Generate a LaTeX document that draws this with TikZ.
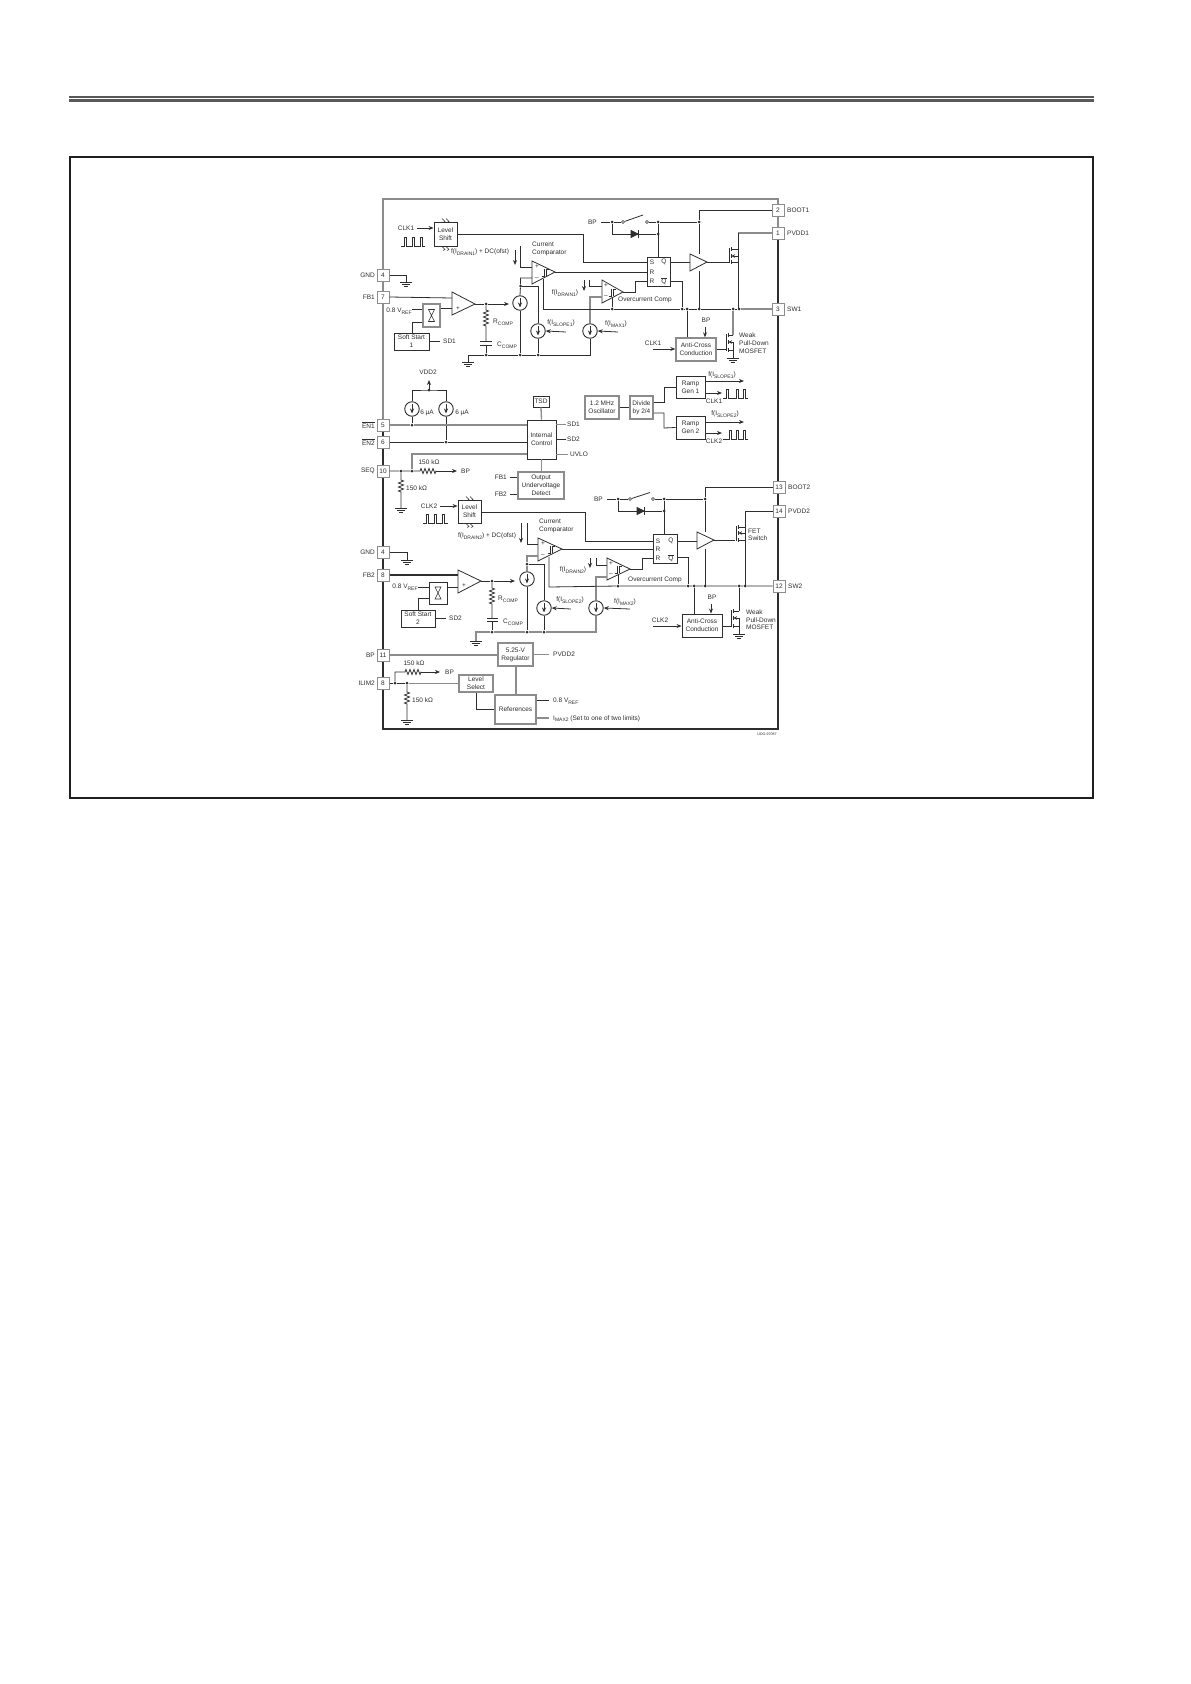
\documentclass[tikz,border=0pt]{standalone}
\usepackage{fontspec}
\setmainfont{Liberation Sans}
\usetikzlibrary{arrows.meta,decorations.pathmorphing,calc}
\definecolor{ink}{gray}{0.18}
\definecolor{soft}{gray}{0.55}
\newcommand{\sbs}[1]{\raisebox{-1.6pt}{\fontsize{5}{5}\selectfont #1}}
\tikzset{
  wire/.style={line width=.8pt,draw=ink,line join=miter},
  wireg/.style={line width=1.3pt,draw=soft},
  arr/.style={-{Stealth[length=5pt,width=4pt]}},
  box/.style={draw=ink,line width=.9pt,fill=white,text=ink,font=\fontsize{6.5}{8}\selectfont},
  gbox/.style={box,draw=soft,line width=1.4pt},
  pinbox/.style={draw=soft,line width=1pt,fill=white,text=ink,minimum size=12pt,inner sep=0pt,font=\fontsize{6.5}{8}\selectfont},
  txt/.style={text=ink,inner sep=0pt,font=\fontsize{6.5}{8}\selectfont,align=center},
  txl/.style={txt,anchor=west,align=left},
  txr/.style={txt,anchor=east,align=right},
  res/.style={decoration={zigzag,segment length=4pt,amplitude=2.5pt}},
  dotc/.style={circle,fill=ink,inner sep=0pt,minimum size=3pt},
  opn/.style={circle,draw=ink,line width=.6pt,fill=white,inner sep=0pt,minimum size=3pt},
  isrcbox/.style={circle,draw=ink,line width=.9pt,fill=white,inner sep=0pt,minimum size=14.5pt},
}
\newcommand{\BOX}[7][box]{%
  \pgfmathsetmacro\rbw{#5-#3}\pgfmathsetmacro\rbh{#6-#4}%
  \pgfmathsetmacro\rcx{(#3+#5)/2}\pgfmathsetmacro\rcy{(#4+#6)/2}%
  \node[#1,minimum width=\rbw pt,minimum height=\rbh pt,inner sep=0pt,align=center] (#2) at (\rcx,\rcy) {#7};}
\newcommand{\PIN}[4]{\node[pinbox] (#1) at (#2,#3) {#4};}
% triangle: name, xl, ytop, ybot, xapex, yapex
\newcommand{\TRI}[6]{%
  \draw[wire,fill=white] (#2,#3) -- (#2,#4) -- (#5,#6) -- cycle;
  \coordinate (#1-o) at (#5,#6);}
\newcommand{\ISRC}[3]{%
  \node[isrcbox] (#1) at (#2,#3) {};
  \draw[wire,arr] ([yshift=5pt]#1.center) -- ([yshift=-4.5pt]#1.center);}
\newcommand{\GNDS}[3]{%
  \coordinate (#1) at (#2,#3);
  \draw[wire] ([xshift=-6pt]#1) -- ([xshift=6pt]#1);
  \draw[wire] ([xshift=-4pt,yshift=-2pt]#1) -- ([xshift=4pt,yshift=-2pt]#1);
  \draw[wire] ([xshift=-1.8pt,yshift=-4pt]#1) -- ([xshift=1.8pt,yshift=-4pt]#1);}
\newcommand{\HYST}[2]{%
  \draw[line width=.4pt,draw=ink] (#1-3.5,#2+4) -- (#1-1.2,#2+4) -- (#1-1.2,#2-3);
  \draw[line width=.4pt,draw=ink] (#1+1.2,#2+4) -- (#1+1.2,#2-3) -- (#1+3.5,#2-3);}
% MOS: xg, xc, xr, yd, ym, ys
\newcommand{\MOS}[6]{%
  \draw[wire] (#1,#4-1) -- (#1,#6+1);
  \draw[line width=1pt,draw=ink] (#2,#4-2) -- (#2,#4+2) (#2,#5-2) -- (#2,#5+2) (#2,#6-2) -- (#2,#6+2);
  \draw[wire] (#2,#4) -- (#3,#4);
  \draw[wire] (#2,#6) -- (#3,#6);
  \draw[wire,-{Stealth[length=3.5pt,width=3.5pt]}] (#3,#5) -- (#2,#5);
  \draw[wire] (#3,#5) -- (#3,#6);}
% pulses: x0, base, top, p1,p2,p3, x1
\newcommand{\PULSE}[7]{%
  \draw[line width=.7pt,draw=ink] (#1,#2) -- (#4,#2) -- (#4,#3) -- (#4+2.5,#3) -- (#4+2.5,#2) -- (#5,#2) -- (#5,#3) -- (#5+2.5,#3) -- (#5+2.5,#2) -- (#6,#2) -- (#6,#3) -- (#6+2.5,#3) -- (#6+2.5,#2) -- (#7,#2);}
\newcommand{\HOUR}[2]{%
  \draw[line width=.6pt,draw=ink] (#1-3,#2-6) -- (#1+3,#2-6) -- (#1-3,#2+6) -- (#1+3,#2+6) -- cycle;}
\newcommand{\SQG}[2]{%
  \draw[line width=.5pt,draw=ink] (#1,#2-1.5) -- (#1+3,#2+1.5) -- (#1+1,#2+2.5) (#1+4,#2-1.5) -- (#1+7,#2+1.5) -- (#1+5,#2+2.5);}
\begin{document}
\begin{tikzpicture}[x=1pt,y=-1pt]
\useasboundingbox (0,0) rectangle (1191,1684);
\fill[white] (0,0) rectangle (1191,1684);
% page furniture
\fill[gray!70!black] (69,96) rectangle (1094,97.6);
\fill[gray!70!black] (69,98.8) rectangle (1094,102);
\draw[line width=2.2pt,draw=black!88] (70,157) rectangle (1093,798);
% chip outline
\draw[wireg] (383,429) -- (383,199) -- (778,199) -- (778,233);
\draw[wire,line width=1.1pt] (383,429) -- (383,729) -- (778,729) -- (778,233);
% pins
\PIN{pinA}{383}{275}{4}
\PIN{pinG}{383}{297}{7}
\PIN{pinB}{778}{210}{2}
\PIN{pinC}{778}{233}{1}
\PIN{pinD}{778}{309}{3}
\PIN{pinE}{383}{425}{5}
\PIN{pinF}{383}{442}{6}
\PIN{pinJ}{383}{471}{10}
\PIN{pinM}{779}{487}{13}
\PIN{pinN}{779}{511}{14}
\PIN{pinL}{779}{586}{12}
\PIN{pinP}{383}{552}{4}
\PIN{pinH}{383}{575}{8}
\PIN{pinK}{383}{655}{11}
\PIN{pinI}{383}{683}{8}
% pin labels
\node[txr] (lGNDa) at (375,275) {GND};
\node[txr] (lFBa) at (375,297) {FB1};
\node[txr] (lENa) at (375,425) {$\overline{\mbox{EN1}}$};
\node[txr] (lENb) at (375,442) {$\overline{\mbox{EN2}}$};
\node[txr] (lSEQ) at (375,471) {SEQ};
\node[txr] (lGNDb) at (375,552) {GND};
\node[txr] (lFBb) at (375,575) {FB2};
\node[txr] (lBP) at (375,655) {BP};
\node[txr] (lILIM) at (375,683) {ILIM2};
\node[txl] (lBOOTa) at (787,210) {BOOT1};
\node[txl] (lPVDDa) at (787,233) {PVDD1};
\node[txl] (lSWa) at (787,309) {SW1};
\node[txl] (lBOOTb) at (788,487) {BOOT2};
\node[txl] (lPVDDb) at (788,511) {PVDD2};
\node[txl] (lSWb) at (788,586) {SW2};

%%% ---------- channel 1 ----------
\BOX{ls1}{434}{222}{457}{246}{Level\\Shift}
\SQG{442}{220}\SQG{442}{248}
\node[txt] (clk1a) at (406,228) {CLK1};
\draw[wire,arr] (clk1a.east) ++(3,0) -- (ls1.west |- clk1a);
\PULSE{401}{246}{237}{404}{412}{420}{425}
\GNDS{gA}{406}{282}
\draw[wire] (pinA.east) -| (gA);
\node[txt] (fd1) at (480,252) {f(I\sbs{DRAIN1}) + DC(ofst)};
\coordinate (aD1t) at (515,250);
\draw[wire,arr] (aD1t) -- (515,265);
\node[txl] (cc1l) at (532,248.5) {Current\\Comparator};
\TRI{amp1}{452}{292}{315}{475}{304}
\node[txt] at (458,309) {+};
\draw[wire] (pinG.east) -- (452,298);
\BOX[gbox]{sg1}{423}{304}{440}{327}{}
\HOUR{431.5}{315.5}
\draw[wire] (sg1.east |- 0,308) -- (452,308);
\node[txt] (vr1) at (399,311) {0.8 V\sbs{REF}};
\draw[wire] (412,309) -- (sg1.west |- 0,309);
\BOX{ss1}{394}{333}{429}{350}{Soft Start\\1}
\draw[wire] (sg1.west |- 0,322) -| (ss1.north -| 412,0);
\node[txl] (sd1) at (443,341) {SD1};
\draw[wire] (ss1.east |- sd1) -- (440,341);
\node[dotc] (j1) at (486,304) {};
\ISRC{i1}{520}{303}
\coordinate (tip1) at (509,304);
\draw[wire,arr] (amp1-o) -- (j1) -- (tip1);
\coordinate (r1a) at (486,310);
\coordinate (r1b) at (486,326);
\draw[wire] (j1) -- (r1a) decorate[res]{-- (r1b)} -- (486,341);
\node[txl] (rc1) at (493,322) {R\sbs{COMP}};
\draw[wire] (480,341) -- (492,341) (480,345) -- (492,345);
\node[txl] (cc1) at (497,345) {C\sbs{COMP}};
\node[dotc] (j2) at (486,355) {};
\draw[wire] (486,345) -- (j2);
\GNDS{gG}{468}{362}
\node[dotc] (j3) at (520,355) {};
\node[dotc] (j4) at (538,355) {};
\ISRC{i2}{538}{331}
\ISRC{i3}{590}{331}
\draw[wire] (gG) -- (468,355) -- (j2) -- (j3) -- (j4) -- (590,355) -- (i3.south);
\draw[wire] (i1.south) -- (j3);
\draw[wire] (i2.south) -- (j4);
\TRI{cmp1}{532}{261}{284}{555}{272}
\node[txt] at (537,266.5) {+};
\node[txt] at (537,279) {–};
\HYST{545}{272}
\node[dotc] (j5) at (520.5,286) {};
\draw[wire] (i1.north) -- (j5) -- (520.5,278) -- (532,278);
\draw[wire] (j5) -- (538,286) -- (i2.north);
\draw[wire] (520.5,246) -- (520.5,267) -- (532,267);
\node[txt] (fi1) at (565,293) {f(I\sbs{DRAIN1})};
\node[txt] (fs1) at (561,323) {f(I\sbs{SLOPE1})};
\coordinate (a1) at (566,332);
\draw[wire,arr] (a1) -- (i2.east);
\node[txt] (fm1) at (616,324) {f(I\sbs{MAX1})};
\coordinate (a2) at (618,332);
\draw[wire,arr] (a2) -- (i3.east);
\TRI{cmp2}{602}{280}{303}{623}{292}
\node[txt] at (606,286) {+};
\node[txt] at (606,297) {–};
\HYST{612}{292}
\draw[wire,arr] (584,280) -- (584,291);
\draw[wire] (589,280) -- (589,286) -- (602,286);
\draw[wireg] (i3.north) -- (590,297) -- (602,297);
\node[txl] (occ1) at (618,300) {Overcurrent Comp};
% SR 1
\BOX{sr1}{647}{257}{670}{286}{}
\node[txt] (s1S) at (652,262) {S};
\node[txt] (s1R) at (652,272) {R};
\node[txt] (s1T) at (652,281) {R};
\node[txt] (s1Q) at (664,262) {Q};
\node[txt] (s1N) at (664,281) {$\overline{\mbox{Q}}$};
\draw[wire] (ls1.east |- 0,234) -- (583,234) -- (583,262) -- (sr1.west |- 0,262);
\draw[wire] (cmp1-o) -- (sr1.west |- cmp1-o);
\draw[wire] (cmp2-o) -- (635,292) -- (635,281) -- (sr1.west |- 0,281);
\node[txr] (bp1) at (597,222) {BP};
\node[opn] (s1a) at (623,222) {};
\node[opn] (s1b) at (647,222) {};
\node[dotc] (j6) at (612,222) {};
\node[dotc] (j7) at (658,222) {};
\node[dotc] (j8) at (699,222) {};
\draw[wire] (601,222) -- (j6) -- (s1a);
\draw[wire] (s1a) -- (643,215);
\draw[wire] (s1b) -- (j7) -- (j8);
\draw[wire] (j7) -- (sr1.north -| j7);
\node[dotc] (j9) at (658,234) {};
\draw[wire] (j6) -- (612,234) -- (j9);
\draw[wire,fill=ink] (631,230.5) -- (631,237.5) -- (638,234) -- cycle;
\draw[wire,line width=1pt] (638,230) -- (638,238);
\TRI{buf1}{690}{254}{271}{707}{262}
\draw[wire] (sr1.east |- 0,262) -- (690,262);
\draw[wire] (buf1-o) -- (729,262);
\MOS{729}{731.5}{738}{249}{256}{262}
\draw[wire] (pinB.west) -- (699,210) -- (j8) -- (699,254);
\draw[wire] (699,271) -- (699,309);
\draw[wireg] (pinC.west) -- (738,233);
\draw[wire] (738,233) -- (738,309);
% SW1 bus
\node[dotc] (k1) at (612,309) {};
\node[dotc] (k2) at (682,309) {};
\node[dotc] (k3) at (687,309) {};
\node[dotc] (k4) at (699,309) {};
\node[dotc] (k5) at (733,309) {};
\node[dotc] (k6) at (739,309) {};
\draw[wire] (543,279) -- (543,309) -- (k1) -- (k2) -- (k3) -- (k4) -- (k5) -- (k6);
\draw[wireg] (k6) -- (pinD.west);
\draw[wire] (k1) -- (612,298);
\draw[wire] (sr1.east |- 0,281) -- (682,281) -- (k2);
\BOX[gbox]{ac1}{676}{338}{716}{361}{Anti-Cross\\Conduction}
\draw[wire] (k3) -- (ac1.north -| k3);
\node[txt] (bp1b) at (706,320) {BP};
\coordinate (a3) at (705,327);
\draw[wire,arr] (a3) -- (ac1.north -| a3);
\node[txt] (ck1) at (653,343) {CLK1};
\coordinate (a4) at (653,349);
\draw[wire,arr] (a4) -- (ac1.west |- a4);
\draw[wire] (ac1.east |- a4) -- (726,349);
\MOS{726}{728.5}{733}{335}{342}{350}
\draw[wireg] (k5) -- (733,335);
\GNDS{gW}{733}{358}
\draw[wire] (733,350) -- (gW);
\node[txl] (wk1) at (739,335) {Weak};
\node[txl] (wk2) at (739,343) {Pull-Down};
\node[txl] (wk3) at (739,351) {MOSFET};

%%% ---------- enable / control ----------
\node[txt] (vdd2) at (428,372) {VDD2};
\coordinate (vb) at (429,390);
\draw[wire,arr] (vb) -- (429,380);
\ISRC{i4}{412}{409}
\ISRC{i5}{446}{409}
\draw[wire,line width=.9pt] (i4.north) |- (vb) -| (i5.north);
\fill[ink] (vb) circle (1.5pt);
\node[txt] (ua1) at (427,413) {6 µA};
\node[txt] (ua2) at (462,413) {6 µA};
\BOX[box]{ic}{527}{420}{556}{459}{Internal\\Control}
\node[dotc] (m1) at (412,425) {};
\node[dotc] (m2) at (446,442) {};
\draw[wire] (i4.south) -- (m1);
\draw[wire] (i5.south) -- (m2);
\draw[wireg] (pinE.east) -- (m1) -- (ic.west |- m1);
\draw[wire] (pinF.east) -- (m2) -- (ic.west |- m2);
\BOX{tsd}{533}{396}{549}{407}{TSD}
\draw[wireg] (tsd.south) -- (ic.north);
\node[txl] (sd1c) at (567,424) {SD1};
\node[txl] (sd2c) at (567,439) {SD2};
\node[txl] (uv) at (570,454) {UVLO};
\draw[wireg,line width=.7pt] (ic.east |- sd1c) -- (566,424);
\draw[wire] (ic.east |- sd2c) -- (566,439);
\draw[wireg,line width=.7pt] (ic.east |- uv) -- (568,454);
\BOX[gbox]{uvd}{518}{472}{564}{499}{Output\\Undervoltage\\Detect}
\draw[wireg] (ic.south) -- (uvd.north -| ic);
\node[txr] (fb1u) at (507,477) {FB1};
\node[txr] (fb2u) at (507,494) {FB2};
\draw[wire] (fb1u.east) ++(3,0) -- (uvd.west |- fb1u);
\draw[wire] (fb2u.east) ++(3,0) -- (uvd.west |- fb2u);
\node[dotc] (n1) at (401,471) {};
\node[dotc] (n2) at (412,471) {};
\coordinate (r2a) at (420,471);
\coordinate (r2b) at (436,471);
\node[txl] (bp2) at (461,471) {BP};
\draw[wire] (pinJ.east) -- (n1) -- (n2) -- (r2a) decorate[res]{-- (r2b)};
\draw[wire,arr] (r2b) -- (457,471);
\draw[wireg] (ic.west |- 0,454) -- (412,454) -- (n2);
\node[txt] (kO1) at (429,462) {150 kΩ};
\coordinate (r3a) at (401,480);
\coordinate (r3b) at (401,492);
\GNDS{gS}{401}{508}
\draw[wire] (n1) -- (r3a) decorate[res]{-- (r3b)} -- (gS);
\node[txl] (kO2) at (406,488) {150 kΩ};
% oscillator
\BOX[gbox]{osc}{585}{396}{619}{419}{1.2 MHz\\Oscillator}
\BOX[gbox]{dv}{630}{396}{653}{419}{Divide\\by 2/4}
\draw[wire] (osc) -- (dv);
\BOX{rg1}{676}{376}{705}{398}{Ramp\\Gen 1}
\BOX{rg2}{676}{416}{705}{439}{Ramp\\Gen 2}
\draw[wire] (dv.east |- 0,402) -- (664,402) -- (664,387) -- (rg1.west);
\draw[wire] (dv.east |- 0,413) -- (664,413) -- (664,428) -- (rg2.west);
\node[txt] (fsA) at (722,375) {f(I\sbs{SLOPE1})};
\draw[wire,arr] (rg1.east |- 0,381) -- (744,381);
\draw[wire,arr] (rg1.east |- 0,393) -- (722,393);
\node[txt] (ckA) at (714,401) {CLK1};
\PULSE{723}{398}{389}{726}{736}{743}{748}
\node[txt] (fsB) at (725,414) {f(I\sbs{SLOPE2})};
\draw[wire,arr] (rg2.east |- 0,422) -- (744,422);
\draw[wire,arr] (rg2.east |- 0,433) -- (722,433);
\node[txt] (ckB) at (714,441) {CLK2};
\PULSE{723}{439}{430}{729}{736}{743}{748}

%%% ---------- channel 2 ----------
\BOX{ls2}{458}{500}{481}{523}{Level\\Shift}
\SQG{466}{498}\SQG{466}{525}
\node[txt] (clk2a) at (429,506) {CLK2};
\draw[wire,arr] (clk2a.east) ++(3,0) -- (ls2.west |- clk2a);
\PULSE{423}{523}{514}{426}{434}{442}{448}
\GNDS{gB}{407}{560}
\draw[wire] (pinP.east) -| (gB);
\node[txt] (fd2) at (487,536) {f(I\sbs{DRAIN2}) + DC(ofst)};
\coordinate (aD2t) at (521,523);
\draw[wire,arr] (aD2t) -- (521,543);
\node[txl] (cc2l) at (539,526) {Current\\Comparator};
\TRI{amp2}{458}{570}{593}{481}{581}
\node[txt] at (464,586) {+};
\draw[wire,line width=1.1pt] (pinH.east) -- (458,575);
\BOX{sg2}{429}{582}{447}{604}{}
\HOUR{438}{593}
\draw[wire] (sg2.east |- 0,587) -- (458,587);
\node[txt] (vr2) at (405,587) {0.8 V\sbs{REF}};
\draw[wire] (418,587) -- (sg2.west |- 0,587);
\BOX{ss2}{401}{610}{435}{627}{Soft Start\\2}
\draw[wire] (sg2.west |- 0,598) -- (418,598) -- (ss2.north -| 418,0);
\node[txl] (sd2) at (449,618) {SD2};
\draw[wire] (ss2.east |- sd2) -- (446,618);
\node[dotc] (p1) at (492,581) {};
\ISRC{i6}{527}{579}
\coordinate (tip2) at (515,581);
\draw[wire,arr] (amp2-o) -- (p1) -- (tip2);
\coordinate (r4a) at (492,588);
\coordinate (r4b) at (492,604);
\draw[wire] (p1) -- (r4a) decorate[res]{-- (r4b)} -- (492,618);
\node[txl] (rc2) at (498,599) {R\sbs{COMP}};
\draw[wire] (487,618) -- (498,618) (487,621) -- (498,621);
\node[txl] (cc2) at (503,622) {C\sbs{COMP}};
\node[dotc] (p2) at (492,632) {};
\draw[wire] (492,621) -- (p2);
\GNDS{gH}{476}{641}
\node[dotc] (p3) at (527,632) {};
\node[dotc] (p4) at (544,632) {};
\ISRC{i7}{544}{608}
\ISRC{i8}{596}{608}
\draw[wireg] (gH) -- (476,632) -- (p2) -- (p3) -- (p4) -- (596,632) -- (i8.south);
\draw[wire] (i6.south) -- (p3);
\draw[wire] (i7.south) -- (p4);
\TRI{cmp3}{538}{538}{561}{562}{549}
\node[txt] at (543,543.5) {+};
\node[txt] at (543,556) {–};
\HYST{551}{549}
\node[dotc] (p5) at (527,564) {};
\draw[wireg] (i6.north) -- (p5) -- (527,556) -- (538,556);
\draw[wire] (p5) -- (544,564) -- (i7.north);
\draw[wire] (527,523) -- (527,544) -- (538,544);
\node[txt] (fi2) at (573,570) {f(I\sbs{DRAIN2})};
\node[txt] (fs2) at (570,600) {f(I\sbs{SLOPE2})};
\coordinate (a5) at (571,609);
\draw[wire,arr] (a5) -- (i7.east);
\node[txt] (fm2) at (625,602) {f(I\sbs{MAX2})};
\coordinate (a6) at (630,609);
\draw[wire,arr] (a6) -- (i8.east);
\TRI{cmp4}{607}{558}{580}{630}{569}
\node[txt] at (611,564) {+};
\node[txt] at (611,575) {–};
\HYST{618}{569}
\draw[wire,arr] (590,558) -- (590,568);
\draw[wire] (596,558) -- (596,565) -- (607,565);
\draw[wireg] (i8.north) -- (596,577) -- (607,577);
\node[txl] (occ2) at (628,580) {Overcurrent Comp};
\BOX{sr2}{653}{534}{677}{563}{}
\node[txt] (s2S) at (658,541) {S};
\node[txt] (s2R) at (658,549) {R};
\node[txt] (s2T) at (658,558) {R};
\node[txt] (s2Q) at (671,541) {Q};
\node[txt] (s2N) at (671,558) {$\overline{\mbox{Q}}$};
\draw[wire] (ls2.east |- 0,512) -- (585,512) -- (585,541) -- (sr2.west |- 0,541);
\draw[wire,line width=1pt] (cmp3-o) -- (sr2.west |- cmp3-o);
\draw[wire] (cmp4-o) -- (642,569) -- (642,558) -- (sr2.west |- 0,558);
\node[txr] (bp3) at (603,499) {BP};
\node[opn] (s2a) at (630,499) {};
\node[opn] (s2b) at (653,499) {};
\node[dotc] (q1) at (618,499) {};
\node[dotc] (q2) at (664,499) {};
\node[dotc] (q3) at (705,499) {};
\draw[wire] (607,499) -- (q1) -- (s2a);
\draw[wire] (s2a) -- (650,492.5);
\draw[wire] (s2b) -- (q2) -- (q3);
\draw[wire] (q2) -- (sr2.north -| q2);
\node[dotc] (q4) at (664,511) {};
\draw[wire] (q1) -- (618,511) -- (q4);
\draw[wire,fill=ink] (637,507.5) -- (637,514.5) -- (644,511) -- cycle;
\draw[wire,line width=1pt] (644,507) -- (644,515);
\TRI{buf2}{697}{532}{549}{714}{540}
\draw[wire,line width=1pt] (sr2.east |- 0,541) -- (697,541);
\draw[wire] (buf2-o) -- (735,540);
\MOS{736}{738.5}{745}{527}{533}{540}
\node[txl] (fsw1) at (748,531) {FET};
\node[txl] (fsw2) at (748,538.5) {Switch};
\draw[wire] (pinM.west) -- (705,487) -- (q3) -- (705,532);
\draw[wire] (705,549) -- (705,586);
\draw[wire] (pinN.west) -- (745,511) -- (745,586);
\node[dotc] (t1) at (618,586) {};
\node[dotc] (t2) at (688,586) {};
\node[dotc] (t3) at (694,586) {};
\node[dotc] (t4) at (705,586) {};
\node[dotc] (t5) at (739,586) {};
\node[dotc] (t6) at (745,586) {};
\draw[wire] (549,557) -- (549,587) -- (t1) -- (t2) -- (t3) -- (t4) -- (t5) -- (t6) -- (pinL.west);
\draw[wire] (t1) -- (618,575);
\draw[wire] (sr2.east |- 0,557) -- (688,557) -- (t2);
\BOX{ac2}{682}{614}{722}{637}{Anti-Cross\\Conduction}
\draw[wire] (t3) -- (ac2.north -| t3);
\node[txt] (bp3b) at (712,597) {BP};
\coordinate (a7) at (711,604);
\draw[wire,arr] (a7) -- (ac2.north -| a7);
\node[txt] (ck2) at (660,620) {CLK2};
\coordinate (a8) at (653,626);
\draw[wire,arr] (a8) -- (ac2.west |- a8);
\draw[wire] (ac2.east |- a8) -- (731,626);
\MOS{731}{733.5}{739}{611}{618}{626}
\draw[wire] (t5) -- (739,611);
\GNDS{gX}{739}{634}
\draw[wire] (739,626) -- (gX);
\node[txl] (wk4) at (746,612) {Weak};
\node[txl] (wk5) at (746,620) {Pull-Down};
\node[txl] (wk6) at (746,627) {MOSFET};

%%% ---------- bottom ----------
\BOX[gbox]{reg}{498}{643}{533}{666}{5.25-V\\Regulator}
\draw[wireg] (pinK.east) -- (reg.west |- pinK);
\node[txl] (pv2) at (553,654) {PVDD2};
\draw[wireg,line width=.7pt] (reg.east |- pv2) -- (549,654);
\BOX[gbox]{sel}{459}{675}{493}{692}{Level\\Select}
\node[dotc] (u1) at (395,683) {};
\node[dotc] (u2) at (407,683) {};
\draw[wire] (pinI.east) -- (u1) -- (u2);
\draw[wireg,line width=.8pt] (u2) -- (sel.west |- u2);
\coordinate (r5a) at (405,672);
\coordinate (r5b) at (421,672);
\draw[wire] (u1) -- (395,672) -- (r5a) decorate[res]{-- (r5b)};
\draw[wire,arr] (r5b) -- (440,672);
\node[txl] (bp4) at (445,672) {BP};
\node[txt] (kO3) at (414,663) {150 kΩ};
\coordinate (r6a) at (407,692);
\coordinate (r6b) at (407,704);
\GNDS{gI}{407}{720}
\draw[wire] (u2) -- (r6a) decorate[res]{-- (r6b)} -- (gI);
\node[txl] (kO4) at (412,700) {150 kΩ};
\BOX[gbox]{rf}{495}{695}{536}{724}{References}
\draw[wireg] (reg.south -| 516,0) -- (rf.north -| 516,0);
\draw[wire] (sel.south -| 476,0) -- (476,709) -- (rf.west |- 0,709);
\node[txl] (v08) at (553,701) {0.8 V\sbs{REF}};
\draw[wire] (rf.east |- 0,700.5) -- (549,700.5);
\node[txl] (imx) at (553,718.5) {I\sbs{MAX2} (Set to one of two limits)};
\draw[wireg] (rf.east |- 0,718) -- (549,718);
\node[text=ink,inner sep=0pt,font=\fontsize{3.6}{4}\selectfont] (udg) at (767,734) {UDG-97087};
\end{tikzpicture}
\end{document}
